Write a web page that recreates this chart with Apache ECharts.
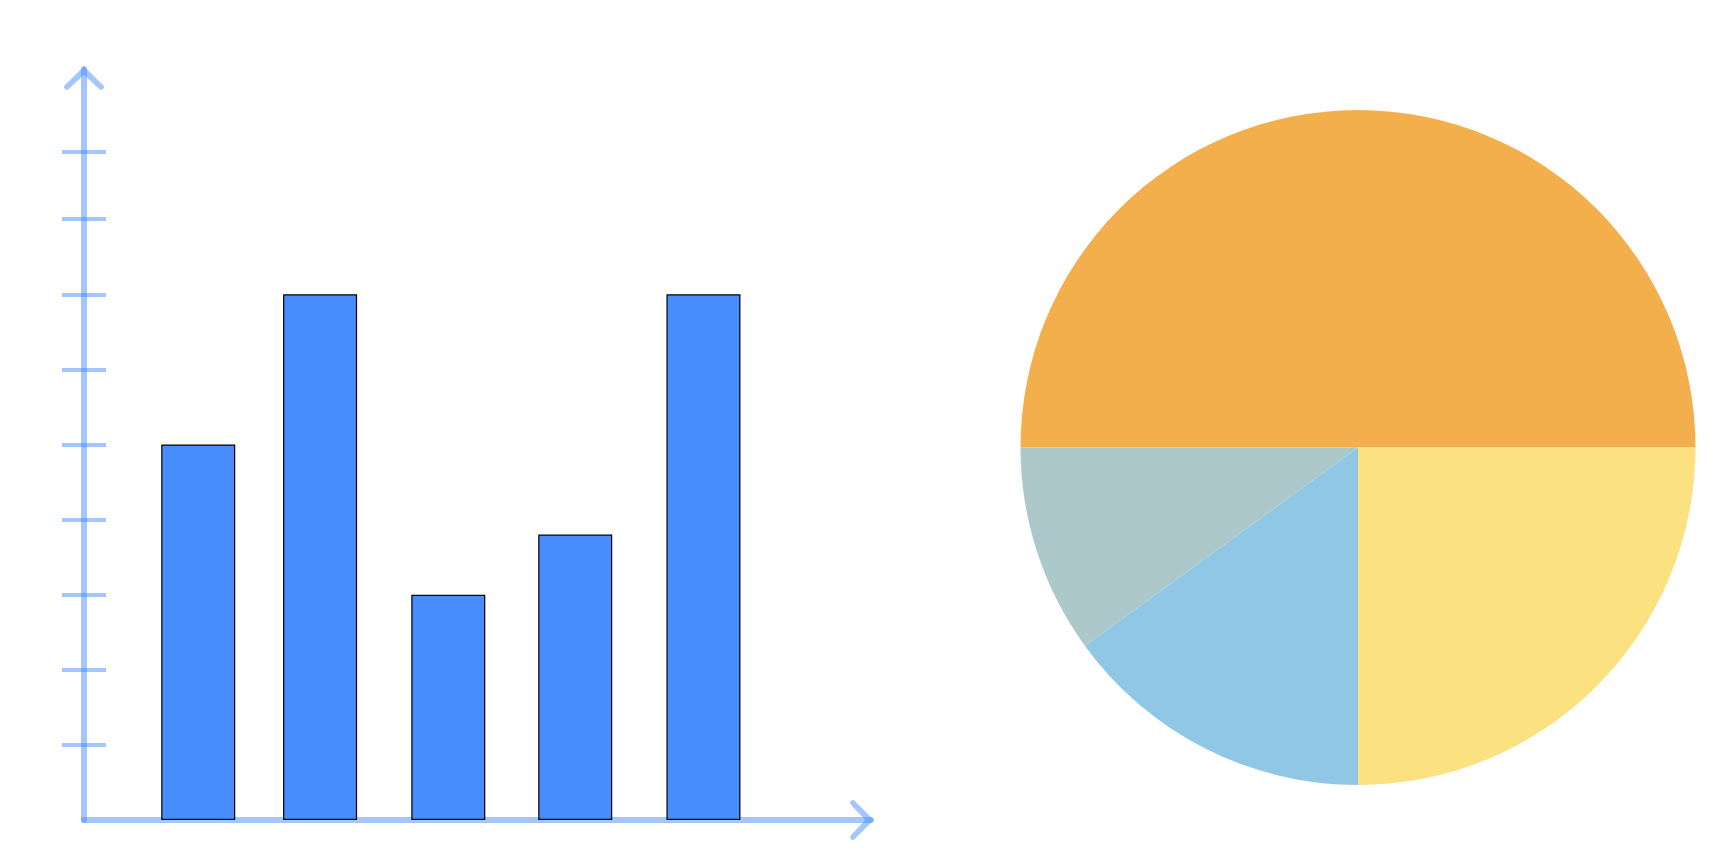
<!DOCTYPE html>
<html>
<head>
<meta charset="utf-8">
<script src="https://cdn.jsdelivr.net/npm/echarts@6/dist/echarts.min.js"></script>
<style>
  html, body { margin: 0; padding: 0; background: #fff; }
  #chart { width: 1736px; height: 868px; }
</style>
</head>
<body>
<div id="chart"></div>
<script>
// bar data
const barNames = ['A', 'B', 'C', 'D', 'E'];
const barValues = [5, 7, 3, 3.8, 7];
const barSlots = [0.9, 1.86, 2.87, 3.87, 4.88]; // where each bar sits on the x scale
const yTicks = [1, 2, 3, 4, 5, 6, 7, 8, 8.9];

// pie data
const pieNames = ['A', 'B', 'C', 'D'];
const pieValues = [50, 25, 15, 10];
const pieColors = ['#f3af4b', '#fbe17f', '#8fc7e5', '#acc8cb'];

const axisColor = 'rgba(72,141,255,0.5)';
// open chevron pointing up
const chevron = 'path://M20,0 L41,21 Q42,25 37,25 L20,9 L3,25 Q-2,25 -1,21 Z';

const chart = echarts.init(document.getElementById('chart'));

const arrowLine = {
    show: true,
    symbol: ['none', chevron],
    symbolSize: [40, 24],
    symbolOffset: [0, -9],
    lineStyle: { color: axisColor, width: 6 }
};

const option = {
    animation: false,
    grid: { left: 84, top: 69, width: 787, bottom: 48 },
    xAxis: {
        type: 'value',
        min: 0,
        max: 6.2,
        axisLine: arrowLine,
        axisTick: { show: false },
        axisLabel: { show: false },
        splitLine: { show: false }
    },
    yAxis: [
        {
            type: 'value',
            min: 0,
            max: 10,
            axisLine: arrowLine,
            axisTick: {
                show: true,
                length: 22,
                customValues: yTicks,
                lineStyle: { color: axisColor, width: 4 }
            },
            axisLabel: { show: false },
            splitLine: { show: false }
        },
        {
            // second copy only for the half of each tick inside the grid
            type: 'value',
            position: 'left',
            min: 0,
            max: 10,
            axisLine: { show: false },
            axisTick: {
                show: true,
                inside: true,
                length: 22,
                customValues: yTicks,
                lineStyle: { color: axisColor, width: 4 }
            },
            axisLabel: { show: false },
            splitLine: { show: false }
        }
    ],
    series: [
        {
            type: 'bar',
            barWidth: 74,
            data: barValues.map((v, i) => ({ name: barNames[i], value: [barSlots[i], v] })),
            itemStyle: { color: '#488dff', borderColor: '#000', borderWidth: 1.2 }
        },
        {
            type: 'pie',
            center: [1358, 447.5],
            radius: 337.5,
            startAngle: 180,
            clockwise: true,
            label: { show: false },
            labelLine: { show: false },
            itemStyle: { borderWidth: 0 },
            data: pieValues.map((v, i) => ({ name: pieNames[i], value: v, itemStyle: { color: pieColors[i] } }))
        }
    ]
};

chart.setOption(option);
</script>
</body>
</html>
